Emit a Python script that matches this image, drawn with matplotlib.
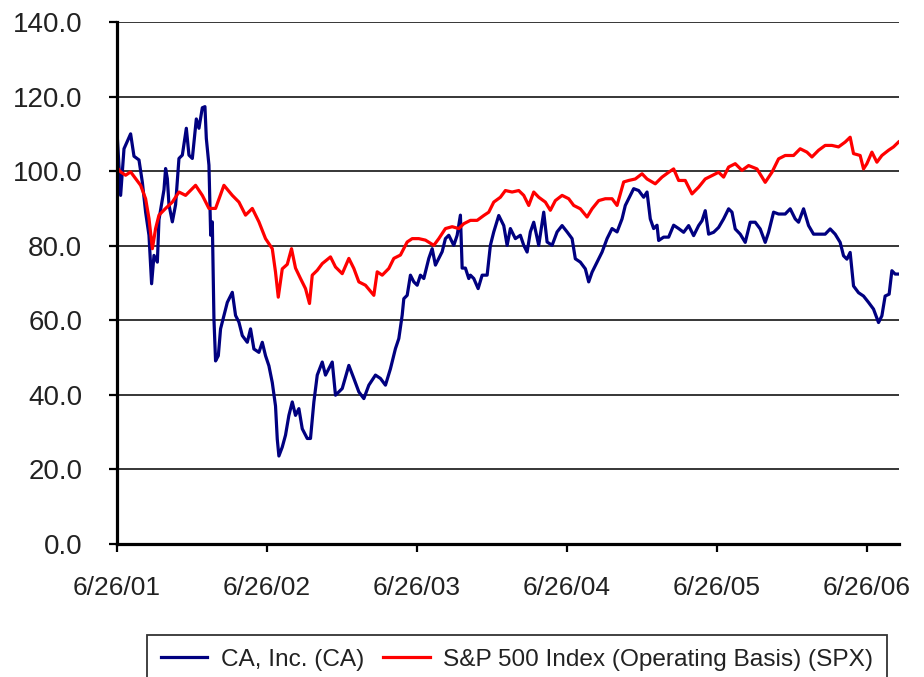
import matplotlib
matplotlib.use("Agg")
import matplotlib.pyplot as plt

plt.rcParams['font.family'] = ['Liberation Sans', 'DejaVu Sans']

# months after 6/26/01 and indexed values
ca_months = [0.0, 0.15, 0.29, 0.56, 1.09, 1.36, 1.76, 2.03, 2.29, 2.56, 2.77, 2.96,
             3.23, 3.36, 3.76, 3.89, 4.03, 4.16, 4.43, 4.69, 4.96, 5.23, 5.55, 5.76,
             6.03, 6.35, 6.56, 6.83, 7.04, 7.15, 7.36, 7.50, 7.63, 7.76, 7.89, 8.11,
             8.29, 8.56, 8.83, 9.23, 9.49, 9.76, 10.03, 10.43, 10.69, 10.96, 11.36,
             11.63, 11.89, 12.16, 12.43, 12.69, 12.83, 12.96, 13.23, 13.49, 13.76,
             14.03, 14.29, 14.56, 14.83, 15.23, 15.49, 15.76, 16.03, 16.43, 16.69,
             17.23, 17.49, 18.03, 18.56, 18.96, 19.36, 19.76, 20.16, 20.69, 21.09,
             21.49, 21.89, 22.29, 22.56, 22.83, 22.96, 23.23, 23.49, 23.76, 24.03,
             24.29, 24.56, 24.96, 25.23, 25.49, 26.03, 26.29, 26.56, 26.96, 27.23,
             27.49, 27.63, 27.89, 28.16, 28.29, 28.56, 28.91, 29.23, 29.63, 29.89,
             30.16, 30.56, 30.96, 31.23, 31.49, 31.89, 32.29, 32.56, 32.83, 33.09,
             33.36, 33.76, 34.16, 34.43, 34.83, 35.23, 35.63, 36.03, 36.43, 36.69,
             37.09, 37.49, 37.76, 38.03, 38.43, 38.83, 39.23, 39.63, 40.03, 40.43,
             40.69, 41.09, 41.36, 41.76, 42.16, 42.43, 42.69, 42.96, 43.23, 43.36,
             43.76, 44.16, 44.56, 44.96, 45.36, 45.76, 46.16, 46.56, 46.83, 47.09,
             47.36, 47.76, 48.16, 48.56, 48.96, 49.23, 49.49, 49.89, 50.29, 50.69,
             51.09, 51.49, 51.89, 52.16, 52.56, 52.96, 53.49, 53.89, 54.29, 54.56,
             54.96, 55.36, 55.76, 56.29, 56.69, 57.09, 57.49, 57.89, 58.16, 58.43,
             58.69, 58.96, 59.36, 59.76, 60.16, 60.56, 60.96, 61.23, 61.49, 61.81,
             62.03, 62.29, 62.61]
ca_values = [110.6, 101.6, 93.5, 106.0, 110.0, 104.0, 103.0, 97.0, 89.0, 82.8, 69.8, 77.4,
             75.6, 87.0, 95.0, 100.7, 98.0, 91.0, 86.4, 91.0, 103.4, 104.3, 111.5, 104.3,
             103.4, 114.0, 111.5, 117.0, 117.3, 108.8, 101.6, 82.8, 86.4, 60.4, 49.1, 50.5,
             57.7, 61.3, 64.8, 67.5, 61.3, 59.5, 55.9, 54.1, 57.7, 52.3, 51.4,
             54.1, 50.5, 47.8, 43.3, 37.0, 28.1, 23.6, 26.0, 29.2, 34.5,
             38.1, 34.5, 36.3, 30.9, 28.3, 28.3, 38.1, 45.3, 48.8, 45.3,
             48.8, 39.9, 41.7, 47.9, 44.4, 40.8, 39.0, 42.6, 45.3, 44.4,
             42.6, 47.0, 52.4, 55.1, 61.4, 65.8, 66.7, 72.1, 70.3, 69.4,
             72.1, 71.2, 76.6, 79.2, 74.8, 78.4, 81.9, 82.8, 80.1, 82.8,
             88.2, 74.0, 74.0, 71.2, 72.1, 71.2, 68.5, 72.1, 72.1, 80.1,
             83.7, 88.1, 85.4, 80.1, 84.6, 81.9, 82.8, 80.1, 78.3, 83.7,
             86.3, 80.1, 89.0, 81.0, 80.1, 83.7, 85.4, 83.7, 81.9, 76.5,
             75.6, 73.8, 70.3, 72.9, 75.6, 78.3, 81.9, 84.6, 83.7, 87.2,
             90.8, 93.5, 95.3, 94.8, 93.0, 94.4, 87.2, 84.6, 85.5, 81.4,
             82.3, 82.3, 85.5, 84.6, 83.6, 85.4, 82.7, 85.4, 86.7, 89.4,
             83.1, 83.6, 84.9, 87.2, 89.9, 89.0, 84.5, 83.1, 80.9, 86.3,
             86.3, 84.5, 80.9, 83.6, 89.0, 88.5, 88.5, 89.9, 87.2, 86.3,
             89.9, 85.4, 83.1, 83.1, 83.1, 84.5, 83.1, 80.9, 77.3, 76.4,
             78.2, 69.2, 67.4, 66.5, 64.8, 63.0, 59.4, 61.2, 66.5, 67.0,
             73.3, 72.4, 72.4]

spx_months = [0.0, 0.29, 0.69, 1.09, 1.49, 1.89, 2.29, 2.56, 2.83, 3.09, 3.36, 3.89,
              4.43, 4.96, 5.49, 6.29, 6.83, 7.36, 7.89, 8.56, 9.23, 9.76, 10.29, 10.83,
              11.36, 11.89, 12.43, 12.69, 12.91, 13.23, 13.63, 13.97, 14.29, 14.69,
              15.09, 15.41, 15.63, 16.03, 16.43, 17.09, 17.49, 18.03, 18.56, 18.96,
              19.36, 19.89, 20.56, 20.83, 21.23, 21.76, 22.16, 22.69, 23.23, 23.63,
              24.16, 24.69, 25.36, 25.76, 26.29, 26.83, 27.36, 27.76, 28.29, 28.83,
              29.36, 29.76, 30.16, 30.69, 31.09, 31.63, 32.16, 32.56, 32.96, 33.36,
              33.76, 34.29, 34.69, 35.09, 35.63, 36.16, 36.56, 37.09, 37.63, 38.03,
              38.56, 39.09, 39.63, 40.03, 40.56, 40.96, 41.49, 42.03, 42.43, 43.09,
              43.63, 44.16, 44.56, 44.96, 45.49, 46.03, 46.56, 47.09, 47.63, 48.16,
              48.56, 48.96, 49.49, 50.03, 50.56, 51.23, 51.63, 51.89, 52.43, 52.96,
              53.49, 54.16, 54.69, 55.23, 55.63, 56.16, 56.69, 57.23, 57.76, 58.29,
              58.69, 58.96, 59.49, 59.76, 60.03, 60.43, 60.83, 61.23, 61.76, 62.16,
              62.56]
spx_values = [101.0, 99.8, 98.9, 99.8, 98.0, 96.2, 92.6, 87.3, 79.2, 84.6, 88.2, 90.0,
              91.7, 94.4, 93.5, 96.2, 93.5, 90.0, 90.0, 96.2, 93.5, 91.7, 88.2, 90.0,
              86.4, 81.9, 79.2, 72.9, 66.2, 73.8, 75.0, 79.2, 74.0, 71.2,
              68.5, 64.5, 72.1, 73.4, 75.2, 77.0, 74.3, 72.5, 76.6, 73.9,
              70.3, 69.4, 66.7, 73.0, 72.1, 73.9, 76.6, 77.5, 81.0, 81.9,
              81.9, 81.5, 80.1, 81.9, 84.6, 85.1, 84.6, 85.9, 86.8, 86.8,
              88.1, 89.0, 91.7, 93.0, 94.8, 94.4, 94.8, 93.5, 90.8, 94.4,
              93.0, 91.7, 89.5, 92.1, 93.5, 92.6, 90.8, 89.9, 87.7, 89.9,
              92.1, 92.6, 92.6, 90.8, 97.1, 97.5, 97.9, 99.3, 97.9, 96.6,
              98.4, 99.7, 100.6, 97.5, 97.5, 93.9, 95.7, 97.9, 98.8, 99.7,
              98.4, 101.1, 102.0, 100.2, 101.5, 100.6, 98.4, 97.0, 99.7, 103.3,
              104.2, 104.2, 106.0, 105.1, 103.8, 105.6, 106.9, 106.9, 106.5, 107.8,
              109.1, 104.7, 104.2, 100.6, 102.0, 105.1, 102.4, 104.2, 105.6, 106.5,
              107.8]

tick_months = [0, 12, 24, 36, 48, 60]
tick_labels = ['6/26/01', '6/26/02', '6/26/03', '6/26/04', '6/26/05', '6/26/06']

fig = plt.figure(figsize=(9.24, 6.77), dpi=100)
ax = fig.add_axes([117 / 924, 1 - 544 / 677, (899 - 117) / 924, (544 - 22) / 677])

ax.plot(ca_months, ca_values, color='#000080', lw=2.3, label='CA, Inc. (CA)')
ax.plot(spx_months, spx_values, color='#ff0000', lw=2.3,
        label='S&P 500 Index (Operating Basis) (SPX)')

ax.set_xlim(0, 62.6)
ax.set_ylim(0, 140)
ax.set_yticks(range(0, 141, 20))
ax.set_yticklabels(['%.1f' % v for v in range(0, 141, 20)])
ax.set_xticks(tick_months)
ax.set_xticklabels(tick_labels)

ax.yaxis.grid(True, color='black', lw=1.1)
ax.set_axisbelow(True)
for s in ['top', 'right']:
    ax.spines[s].set_visible(False)
for s in ['left', 'bottom']:
    ax.spines[s].set_linewidth(2.3)
ax.tick_params(axis='y', direction='out', length=6, width=1.6, pad=19,
               labelsize=20, colors='black', labelcolor='#222222')
ax.tick_params(axis='x', direction='out', length=6, width=1.6, pad=17,
               labelsize=19, colors='black', labelcolor='#222222')

leg = fig.legend(loc='upper center', bbox_to_anchor=(517 / 924, 1 - 635 / 677),
                 ncol=2, fontsize=17.6, frameon=True, fancybox=False,
                 edgecolor='black', handlelength=1.9, handletextpad=0.55,
                 columnspacing=0.8, borderpad=0.55, borderaxespad=0)
leg.get_frame().set_linewidth(1.3)
for t in leg.get_texts():
    t.set_color('#222222')

fig.savefig('out.png', dpi=100)
